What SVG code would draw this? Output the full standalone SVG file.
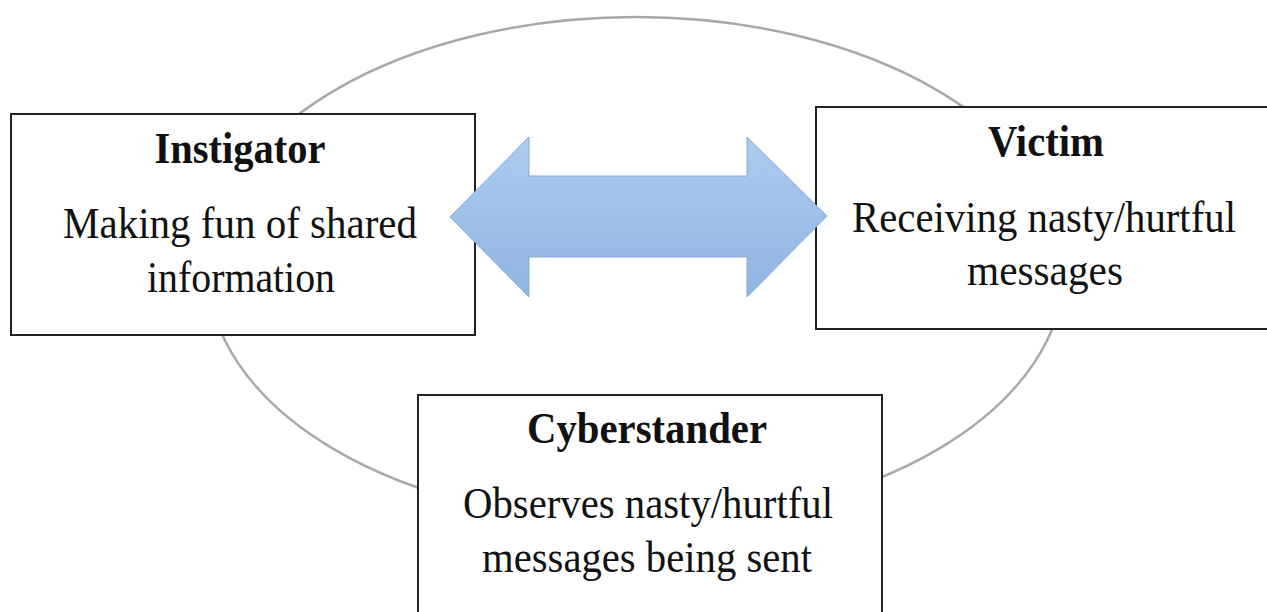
<svg xmlns="http://www.w3.org/2000/svg" width="1267" height="612" viewBox="0 0 1267 612">
<defs>
<linearGradient id="ag" x1="0" y1="0" x2="0" y2="1">
<stop offset="0" stop-color="#adcbee"/>
<stop offset="1" stop-color="#8fb5e2"/>
</linearGradient>
<style>
.box{fill:#fff;stroke:#222;stroke-width:2}
.t{font-family:"Liberation Serif","Times New Roman",serif;font-size:44px;fill:#111;text-anchor:middle}
.b{font-weight:bold}
</style>
</defs>
<rect width="1267" height="612" fill="#fff"/>
<ellipse cx="636" cy="270" rx="428" ry="253" fill="none" stroke="#a8a8a8" stroke-width="2.5"/>
<g id="instigator">
<rect class="box" x="11" y="114" width="464" height="221"/>
<text class="t b" x="240" y="163" textLength="171" lengthAdjust="spacingAndGlyphs">Instigator</text>
<text class="t" x="240" y="238" textLength="354" lengthAdjust="spacingAndGlyphs">Making fun of shared</text>
<text class="t" x="241" y="292" textLength="188" lengthAdjust="spacingAndGlyphs">information</text>
</g>
<g id="victim">
<rect class="box" x="816" y="107" width="460" height="222"/>
<text class="t b" x="1046" y="156" textLength="116" lengthAdjust="spacingAndGlyphs">Victim</text>
<text class="t" x="1044" y="232" textLength="384" lengthAdjust="spacingAndGlyphs">Receiving nasty/hurtful</text>
<text class="t" x="1045" y="285" textLength="156" lengthAdjust="spacingAndGlyphs">messages</text>
</g>
<g id="cyberstander">
<rect class="box" x="418" y="395" width="464" height="230"/>
<text class="t b" x="647" y="443" textLength="240" lengthAdjust="spacingAndGlyphs">Cyberstander</text>
<text class="t" x="648" y="518" textLength="370" lengthAdjust="spacingAndGlyphs">Observes nasty/hurtful</text>
<text class="t" x="647" y="572" textLength="330" lengthAdjust="spacingAndGlyphs">messages being sent</text>
</g>
<g id="connectors">
<path d="M450,217 L529,137 L529,176 L747,176 L747,137 L827,216 L747,297 L747,257 L529,257 L529,297 Z" fill="url(#ag)" stroke="#86abd9" stroke-width="1"/>
</g>
</svg>
